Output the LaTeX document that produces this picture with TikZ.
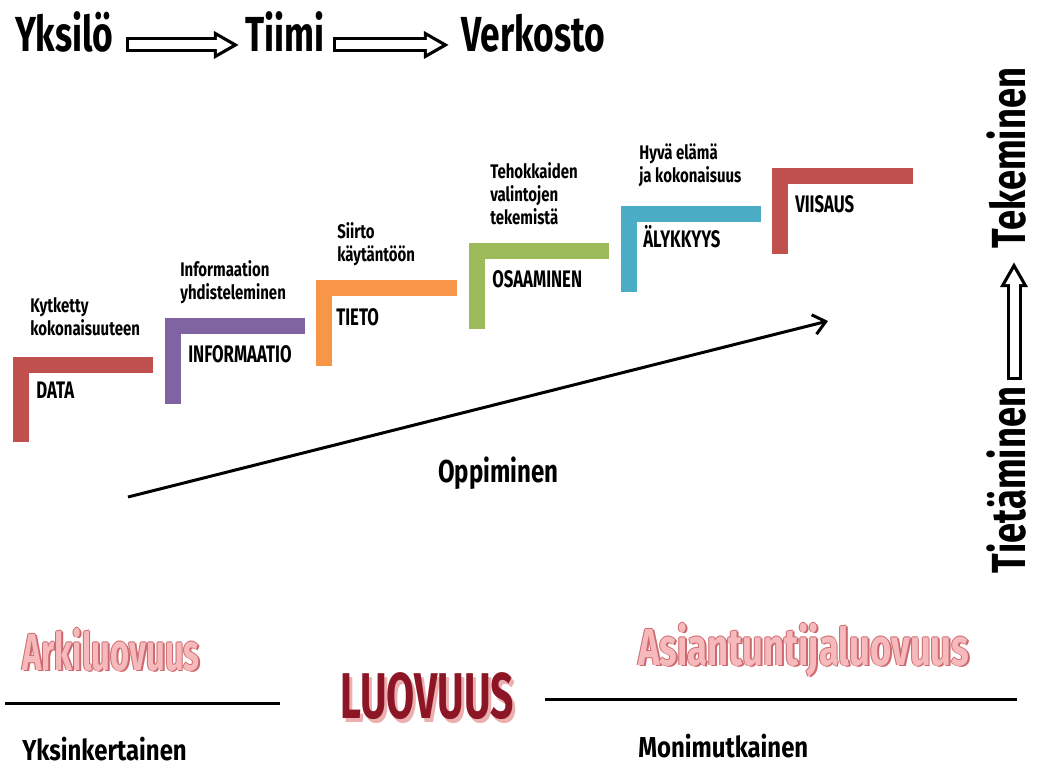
\documentclass[tikz,border=0pt]{standalone}
\usepackage{fontspec}
\newfontfamily\agency{Fira Sans}[FakeStretch=0.72]
\newfontfamily\agencyslim{Fira Sans}[FakeStretch=0.63]
\newfontfamily\agencyname{Fira Sans}[FakeStretch=0.70]
\newfontfamily\agencynote{Fira Sans}[FakeStretch=0.76]
\newfontfamily\agencywide{Fira Sans}[FakeStretch=0.83]
\usetikzlibrary{arrows.meta}
\usetikzlibrary{positioning}

\definecolor{stepred}{RGB}{192,80,77}
\definecolor{steppurple}{RGB}{128,100,162}
\definecolor{steporange}{RGB}{247,150,70}
\definecolor{stepgreen}{RGB}{155,187,89}
\definecolor{stepblue}{RGB}{75,172,198}
\definecolor{pinktext}{RGB}{246,186,188}
\definecolor{pinkedge}{RGB}{205,105,110}
\definecolor{darkred}{RGB}{140,22,38}
\definecolor{luoshadow}{RGB}{235,175,175}

\begin{document}
\begin{tikzpicture}[x=0.025cm, y=-0.025cm,
  stepbar/.style={line width=0.4cm},
  note/.style={anchor=north west, align=left, inner sep=0, font=\agencynote\bfseries\fontsize{14}{16.5}\selectfont},
  stepname/.style={anchor=base west, inner sep=0, font=\agencyname\bfseries\fontsize{17}{18}\selectfont},
  bigtext/.style={inner sep=0, anchor=base west, font=\agency\bfseries\fontsize{35}{38}\selectfont},
  sidetext/.style={inner sep=0, text depth=0pt, anchor=base, rotate=90, font=\agencynote\bfseries\fontsize{34}{36}\selectfont},
  fat/.style={line width=0.375cm, -{Triangle[length=0.625cm, width=0.65cm]},
    postaction={draw=white, line width=0.225cm, shorten <=0.075cm, shorten >=0.17cm, -{Triangle[length=0.38cm, width=0.4cm]}}},
  rule/.style={line width=0.075cm},
  pink/.style={inner sep=0, anchor=base west, text=pinktext, font=\agencyslim\bfseries\fontsize{37}{38}\selectfont},
  kind/.style={inner sep=0, anchor=base west, font=\agencywide\bfseries\fontsize{20.5}{22}\selectfont}]
\useasboundingbox (0,0) rectangle (1040,769);
% top: individual, team, network
\node [bigtext] (yksilo) at (15,52) {Yksilö};
\node [bigtext] (tiimi) at (245,52) {Tiimi};
\node [bigtext] (verkosto) at (461,52) {Verkosto};
\draw [fat] ([xshift=0.3cm, yshift=0.1cm]yksilo.mid east) -- ([xshift=-0.15cm, yshift=0.1cm]tiimi.mid west);
\draw [fat] ([xshift=0.2cm, yshift=0.1cm]tiimi.mid east) -- ([xshift=-0.3cm, yshift=0.1cm]verkosto.mid west);
% steps
\draw [stepbar, stepred] (21,442) -- (21,365) -- (153,365);
\draw [stepbar, steppurple] (173,404) -- (173,326) -- (305,326);
\draw [stepbar, steporange] (324,366) -- (324,288) -- (457,288);
\draw [stepbar, stepgreen] (477,329) -- (477,251) -- (609,251);
\draw [stepbar, stepblue] (629,292) -- (629,214) -- (761,214);
\draw [stepbar, stepred] (780,254) -- (780,176) -- (913,176);
\node [stepname] (data) at (36,398) {DATA};
\node [stepname] (informaatio) at (188,362) {INFORMAATIO};
\node [stepname] (tieto) at (336,325) {TIETO};
\node [stepname] (osaaminen) at (492,287) {OSAAMINEN};
\node [stepname] (alykkyys) at (643,247) {ÄLYKKYYS};
\node [stepname] (viisaus) at (795,212) {VIISAUS};
\node [note] (kytketty) at (30,297) {Kytketty\\kokonaisuuteen};
\node [note] (yhdist) at (180,260) {Informaation\\yhdisteleminen};
\node [note] (siirto) at (337,222) {Siirto\\käytäntöön};
\node [note] (tehok) at (490,162) {Tehokkaiden\\valintojen\\tekemistä};
\node [note] (hyva) at (639,143) {Hyvä elämä\\ja kokonaisuus};
% learning
\coordinate (opstart) at (128,497);
\coordinate (opend) at (828,321);
\draw [line width=0.075cm, -{Straight Barb[length=0.3cm, width=0.5cm, line width=0.075cm]}] (opstart) -- (opend);
\node [inner sep=0, anchor=base west, font=\agencynote\bfseries\fontsize{22.5}{24}\selectfont] (oppiminen) at (438,482) {Oppiminen};
% knowing to doing
\node [sidetext] (tietaminen) at (1025,480) {Tietäminen};
\node [sidetext] (tekeminen) at (1025,158) {Tekeminen};
\coordinate (ylos1) at (1014,380);
\coordinate (ylos2) at (1014,262);
\draw [fat] (ylos1) -- (ylos2);
% creativity
\coordinate (vasen1) at (5,703);
\coordinate (vasen2) at (280,703);
\coordinate (oikea1) at (545,699);
\coordinate (oikea2) at (1017,699);
\draw [rule] (vasen1) -- (vasen2);
\draw [rule] (oikea1) -- (oikea2);
\foreach \dx/\dy in {-0.9/0, 0.9/0, 0/-0.9, 0/0.9, 1.8/1.8} {
  \node [pink, text=pinkedge] at (22+\dx,670+\dy) {Arkiluovuus};
  \node [pink, text=pinkedge, font=\agencyname\bfseries\fontsize{37}{38}\selectfont] at (638+\dx,665+\dy) {Asiantuntijaluovuus};
}
\node [pink] (arki) at (22,670) {Arkiluovuus};
\node [pink, font=\agencyname\bfseries\fontsize{37}{38}\selectfont] (asian) at (638,665) {Asiantuntijaluovuus};
\node [inner sep=0, anchor=base, text=luoshadow, font=\agencyslim\bfseries\fontsize{46}{48}\selectfont] at (430,722) {LUOVUUS};
\node [inner sep=0, anchor=base, text=darkred, font=\agencyslim\bfseries\fontsize{46}{48}\selectfont] (luovuus) at (427,718) {LUOVUUS};
\node [kind] (yksink) at (22,760) {Yksinkertainen};
\node [kind] (monim) at (638,757) {Monimutkainen};
\end{tikzpicture}
\end{document}
